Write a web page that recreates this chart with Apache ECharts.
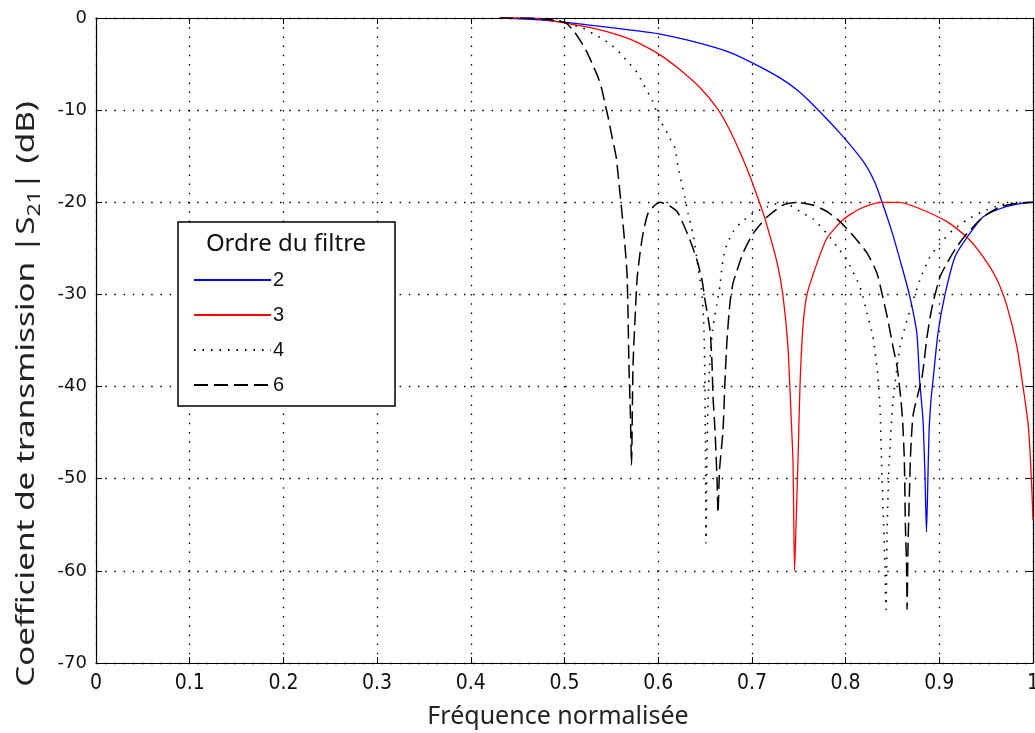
<!DOCTYPE html>
<html>
<head>
<meta charset="utf-8">
<script src="https://cdn.jsdelivr.net/npm/echarts@6.0.0/dist/echarts.min.js"></script>
<style>
html,body{margin:0;padding:0;background:#fff;}
#chart{width:1035px;height:733px;}
</style>
</head>
<body>
<div id="chart"></div>
<script>
// Frequency ticks and labels
const xTickLabels = ['0','0.1','0.2','0.3','0.4','0.5','0.6','0.7','0.8','0.9','1'];
const yTickLabels = ['-70','-60','-50','-40','-30','-20','-10','0'];
const seriesNames = ['2','3','4','6'];

// Order 2 filter: [normalised frequency, |S21| dB]
const order2 = [[0.431,0],[0.474,-0.2],[0.509,-0.55],[0.554,-1.1],[0.602,-1.75],[0.645,-2.75],[0.677,-3.75],[0.701,-4.9],[0.73,-6.5],[0.748,-7.8],[0.767,-9.6],[0.794,-12.5],[0.819,-15.6],[0.831,-17.8],[0.839,-20],[0.85,-23.4],[0.859,-26.6],[0.868,-30],[0.876,-34.2],[0.879,-39.3],[0.8826,-43.6],[0.8848,-50],[0.8863,-55.8],[0.8874,-52],[0.889,-45],[0.8911,-41.5],[0.8933,-39.3],[0.8986,-34.2],[0.9061,-30],[0.9168,-25.9],[0.9296,-23.8],[0.9466,-21.6],[0.9648,-20.7],[0.9829,-20.2],[1.0,-20]];

// Order 3 filter
const order3 = [[0.431,0],[0.455,0],[0.474,-0.1],[0.509,-0.7],[0.535,-1.2],[0.562,-2.0],[0.581,-2.8],[0.602,-4.0],[0.623,-5.6],[0.645,-7.6],[0.663,-9.8],[0.674,-11.7],[0.687,-14.5],[0.698,-17.2],[0.708,-20],[0.714,-21.8],[0.727,-26.6],[0.733,-30],[0.7385,-35.7],[0.7417,-42.9],[0.7439,-48.3],[0.7455,-60],[0.7471,-55],[0.7492,-48],[0.7513,-40],[0.7545,-33.5],[0.7588,-30],[0.7695,-26.6],[0.7801,-23.9],[0.7972,-21.9],[0.8154,-20.7],[0.8367,-20],[0.8581,-20],[0.8794,-20.7],[0.9082,-22.1],[0.9296,-23.8],[0.9466,-25.9],[0.9616,-28.4],[0.9723,-31.3],[0.9829,-35.7],[0.9893,-40],[0.9915,-41.5],[0.9947,-44],[0.9968,-47],[0.9989,-51.5],[1.0,-54.5]];

// Order 4 filter
const order4 = [[0.431,0],[0.474,-0.1],[0.5005,-0.4],[0.509,-0.75],[0.5197,-1.1],[0.5304,-1.7],[0.5411,-2.3],[0.5507,-3.0],[0.5603,-3.9],[0.5688,-4.9],[0.5774,-5.9],[0.5827,-6.9],[0.588,-7.9],[0.5934,-8.9],[0.6019,-11.1],[0.6073,-12.0],[0.6126,-13.1],[0.6179,-14.1],[0.6211,-16.1],[0.6254,-18.1],[0.6285,-19.5],[0.6318,-21.2],[0.6371,-23.4],[0.6425,-27.0],[0.6467,-29.9],[0.6489,-34.0],[0.6499,-40.0],[0.6505,-48.0],[0.651,-57.0],[0.6518,-49.0],[0.6531,-42.0],[0.6553,-37.0],[0.6585,-33.5],[0.6628,-31.0],[0.666,-29.0],[0.6681,-27.0],[0.6713,-25.2],[0.6745,-24.3],[0.6798,-23.2],[0.6873,-22.3],[0.7012,-21.2],[0.7161,-20.5],[0.7332,-20.0],[0.7545,-21.2],[0.7652,-21.8],[0.7801,-23.4],[0.7908,-24.8],[0.8015,-26.3],[0.8154,-29.2],[0.8228,-32.0],[0.8292,-34.6],[0.8346,-39.0],[0.837,-43.0],[0.8385,-48.7],[0.842,-59.5],[0.8431,-64.2],[0.8442,-56.0],[0.8452,-52.0],[0.8463,-48.7],[0.8506,-41.5],[0.8581,-35.7],[0.8655,-32.8],[0.8794,-28.4],[0.8901,-25.9],[0.9007,-24.5],[0.9146,-23.0],[0.9296,-21.9],[0.9466,-21.0],[0.9648,-20.3],[0.9861,-20.0],[1.0,-20.0]];

// Order 6 filter
const order6 = [[0.431,0],[0.474,-0.05],[0.5005,-0.5],[0.5091,-1.3],[0.5165,-2.4],[0.524,-3.7],[0.5293,-4.9],[0.5357,-6.4],[0.54,-7.8],[0.5432,-9.3],[0.5464,-10.7],[0.5507,-12.9],[0.555,-15],[0.5571,-16.9],[0.5592,-19],[0.5614,-21.2],[0.5646,-24.8],[0.5667,-27.7],[0.5678,-32],[0.5688,-37.8],[0.5703,-42.9],[0.5715,-48.5],[0.5731,-37.8],[0.5752,-32.8],[0.5774,-28.4],[0.5806,-25.5],[0.5838,-23.4],[0.5891,-21.2],[0.5966,-20.3],[0.6019,-20],[0.6105,-20.3],[0.6201,-21],[0.6265,-22.3],[0.6339,-24.1],[0.6414,-26.3],[0.6467,-28.4],[0.6499,-30.6],[0.6553,-33.9],[0.6574,-37.4],[0.6585,-41.1],[0.6606,-44.7],[0.6628,-50.1],[0.6638,-53.7],[0.6655,-49],[0.6692,-44.7],[0.6713,-39.3],[0.6734,-35],[0.6766,-30.9],[0.6798,-28.8],[0.6841,-27.4],[0.6905,-25.5],[0.7012,-23.4],[0.7161,-21.6],[0.7332,-20.3],[0.7481,-20],[0.7652,-20.3],[0.7801,-21],[0.794,-22.1],[0.8079,-23.6],[0.8228,-25.5],[0.8335,-27.7],[0.8388,-29.9],[0.8452,-32.8],[0.8506,-35.7],[0.8549,-37.8],[0.8591,-41.5],[0.861,-44],[0.8627,-48],[0.8638,-55],[0.8652,-60],[0.8656,-64.2],[0.8665,-58],[0.868,-52],[0.8695,-47],[0.8722,-43],[0.8815,-39],[0.8869,-34.6],[0.8922,-31.4],[0.9007,-28.1],[0.9082,-26.6],[0.9189,-24.8],[0.9296,-23.4],[0.9466,-21.6],[0.9648,-20.5],[0.9829,-20.1],[1.0,-20]];

const chart = echarts.init(document.getElementById('chart'), null, {renderer:'canvas'});

const gridDots = {color:'#000', width:1.3, type:[1.5,7.7]};
const tickFont = "'Liberation Sans Narrow','DejaVu Sans Condensed','Liberation Sans',sans-serif";
const sansFont = "'Noto Sans','Open Sans',sans-serif";

const option = {
  animation:false,
  backgroundColor:'#fff',
  grid:{left:96, right:2, top:18, bottom:70, containLabel:false, outerBoundsMode:'none'},
  xAxis:[{
    type:'value', min:0, max:1, interval:0.1, position:'bottom',
    axisLine:{show:true, onZero:false, lineStyle:{color:'#000', width:1.2}},
    axisTick:{show:true, inside:true, length:6, lineStyle:{color:'#000'}},
    axisLabel:{show:true, margin:10, color:'#111', fontSize:21, fontFamily:tickFont,
      formatter:function(v){return xTickLabels[Math.round(v*10)];}},
    splitLine:{show:true, lineStyle:gridDots}
  },{
    type:'value', min:0, max:1, interval:0.1, position:'top',
    axisLine:{show:true, onZero:false, lineStyle:{color:'#000', width:1.2}},
    axisTick:{show:true, inside:true, length:6, lineStyle:{color:'#000'}},
    axisLabel:{show:false}, splitLine:{show:false}
  }],
  yAxis:[{
    type:'value', min:-70, max:0, interval:10, position:'left',
    axisLine:{show:true, onZero:false, lineStyle:{color:'#000', width:1.2}},
    axisTick:{show:true, inside:true, length:6, lineStyle:{color:'#000'}},
    axisLabel:{show:true, margin:9, color:'#111', fontSize:18, fontFamily:"'DejaVu Sans',sans-serif",
      formatter:function(v){return yTickLabels[Math.round((v+70)/10)];}},
    splitLine:{show:true, lineStyle:gridDots}
  },{
    type:'value', min:-70, max:0, interval:10, position:'right',
    axisLine:{show:true, onZero:false, lineStyle:{color:'#000', width:1.2}},
    axisTick:{show:true, inside:true, length:6, lineStyle:{color:'#000'}},
    axisLabel:{show:false}, splitLine:{show:false}
  }],
  legend:{
    show:true, orient:'vertical', left:193, top:270, itemWidth:77, itemHeight:14, itemGap:15,
    selectedMode:false, z:102, padding:0,
    itemStyle:{opacity:0, borderWidth:0},
    textStyle:{fontSize:20, color:'#111', fontFamily:"'Liberation Sans',Arial,sans-serif", lineHeight:14, padding:[0,0,0,-3]},
    data:seriesNames
  },
  graphic:[
    {type:'rect', z:100, shape:{x:178, y:222, width:217, height:184},
      style:{fill:'#fff', stroke:'#000', lineWidth:1.5}},
    {type:'text', z:101, x:286, y:244,
      style:{text:'Ordre du filtre', fill:'#111', fontSize:24, fontFamily:sansFont, align:'center', verticalAlign:'middle'}},
    {type:'text', z:101, x:27, y:394, rotation:Math.PI/2, scaleX:1.28,
      style:{text:'Coefficient de transmission |S{sub|21}| (dB)', fill:'#222', fontSize:26,
        fontFamily:sansFont, align:'center', verticalAlign:'middle', lineHeight:34,
        rich:{sub:{fontSize:18, fill:'#222', fontFamily:sansFont, verticalAlign:'bottom', lineHeight:34}}}},
    {type:'text', z:101, x:558, y:717,
      style:{text:'Fréquence normalisée', fill:'#222', fontSize:25, fontFamily:sansFont, align:'center', verticalAlign:'middle'}}
  ],
  series:[
    {name:seriesNames[0], type:'line', data:order2, showSymbol:false, symbol:'none', z:3, smooth:0.2,
      lineStyle:{color:'#0000ff', width:1.3, type:'solid'}, itemStyle:{color:'#0000ff'}},
    {name:seriesNames[1], type:'line', data:order3, showSymbol:false, symbol:'none', z:4, smooth:0.2,
      lineStyle:{color:'#ff0000', width:1.3, type:'solid'}, itemStyle:{color:'#ff0000'}},
    {name:seriesNames[2], type:'line', data:order4, showSymbol:false, symbol:'none', z:5, smooth:0.2,
      lineStyle:{color:'#000', width:1.6, type:[1.5,7]}, itemStyle:{color:'#000'}},
    {name:seriesNames[3], type:'line', data:order6, showSymbol:false, symbol:'none', z:6, smooth:0.2,
      lineStyle:{color:'#000', width:1.5, type:[14,6]}, itemStyle:{color:'#000'}}
  ]
};
chart.setOption(option);
</script>
</body>
</html>
